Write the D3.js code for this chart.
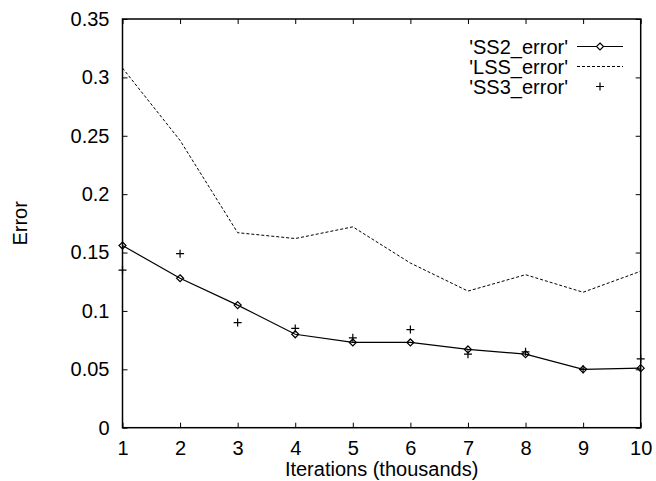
<!DOCTYPE html>
<html>
<head>
<meta charset="utf-8">
<script src="https://cdn.jsdelivr.net/npm/d3@7"></script>
<style>
  body { margin: 0; background: #fff; }
  text { font-family: "Liberation Sans", Arial, sans-serif; fill: #000; }
</style>
</head>
<body>
<div id="chart"></div>
<script>
var iterations = [1, 2, 3, 4, 5, 6, 7, 8, 9, 10];
var ss2Error = [0.156, 0.128, 0.105, 0.080, 0.073, 0.073, 0.067, 0.063, 0.050, 0.051];
var lssError = [0.308, 0.246, 0.167, 0.162, 0.172, 0.141, 0.117, 0.131, 0.116, 0.134];
var ss3Error = [0.135, 0.149, 0.090, 0.085, 0.077, 0.084, 0.063, 0.065, 0.050, 0.059];
var yTicks = [0, 0.05, 0.1, 0.15, 0.2, 0.25, 0.3, 0.35];
var legendNames = ["'SS2_error'", "'LSS_error'", "'SS3_error'"];

var width = 656, height = 481;
var margin = { left: 122.5, right: 15.3, top: 19, bottom: 53.3 };
var fontSize = '20px';

var svg = d3.select('#chart')
  .append('svg')
  .attr('width', width)
  .attr('height', height);

var x = d3.scaleLinear().domain([1, 10]).range([margin.left, width - margin.right]);
var y = d3.scaleLinear().domain([0, 0.35]).range([height - margin.bottom, margin.top]);

var tickLen = 5;

// axes: ticks pointing inward, mirrored on opposite sides
svg.append('g')
  .attr('transform', 'translate(0,' + y(0) + ')')
  .call(d3.axisBottom(x).tickValues(iterations).tickSize(-tickLen).tickPadding(13).tickFormat(d3.format('d')))
  .call(function(g) { g.select('.domain').remove(); })
  .selectAll('text').style('font-size', fontSize);

svg.append('g')
  .attr('transform', 'translate(0,' + y(0.35) + ')')
  .call(d3.axisTop(x).tickValues(iterations).tickSize(-tickLen).tickFormat(''))
  .call(function(g) { g.select('.domain').remove(); });

svg.append('g')
  .attr('transform', 'translate(' + x(1) + ',0)')
  .call(d3.axisLeft(y).tickValues(yTicks).tickSize(-tickLen).tickPadding(13).tickFormat(function(d) { return d3.format('')(+d.toFixed(2)); }))
  .call(function(g) { g.select('.domain').remove(); })
  .selectAll('text').style('font-size', fontSize);

svg.append('g')
  .attr('transform', 'translate(' + x(10) + ',0)')
  .call(d3.axisRight(y).tickValues(yTicks).tickSize(-tickLen).tickFormat(''))
  .call(function(g) { g.select('.domain').remove(); });

svg.selectAll('.tick line').attr('stroke', '#000').attr('stroke-width', 1);

// border
svg.append('rect')
  .attr('x', x(1))
  .attr('y', y(0.35))
  .attr('width', x(10) - x(1))
  .attr('height', y(0) - y(0.35))
  .attr('fill', 'none')
  .attr('stroke', '#000')
  .attr('stroke-width', 1.5);

// axis labels
svg.append('text')
  .attr('x', (x(1) + x(10)) / 2)
  .attr('y', 476)
  .attr('text-anchor', 'middle')
  .style('font-size', fontSize)
  .text('Iterations (thousands)');

svg.append('text')
  .attr('transform', 'translate(27,' + (y(0) + y(0.35)) / 2 + ') rotate(-90)')
  .attr('text-anchor', 'middle')
  .style('font-size', fontSize)
  .text('Error');

var line = d3.line()
  .x(function(d) { return x(d[0]); })
  .y(function(d) { return y(d[1]); });

var lssData = d3.zip(iterations, lssError);
var ss2Data = d3.zip(iterations, ss2Error);
var ss3Data = d3.zip(iterations, ss3Error);

svg.append('path')
  .attr('d', line(lssData))
  .attr('fill', 'none')
  .attr('stroke', '#000')
  .attr('stroke-width', 1)
  .attr('stroke-dasharray', '3,2');

svg.append('path')
  .attr('d', line(ss2Data))
  .attr('fill', 'none')
  .attr('stroke', '#000')
  .attr('stroke-width', 1.2);

var diamond = 'M0,-3.5L3.5,0L0,3.5L-3.5,0Z';
var plus = 'M-4,0H4M0,-4V4';

svg.append('g')
  .selectAll('path')
  .data(ss2Data)
  .enter()
  .append('path')
  .attr('transform', function(d) { return 'translate(' + x(d[0]) + ',' + y(d[1]) + ')'; })
  .attr('d', diamond)
  .attr('fill', 'none')
  .attr('stroke', '#000')
  .attr('stroke-width', 1.2);

svg.append('g')
  .selectAll('path')
  .data(ss3Data)
  .enter()
  .append('path')
  .attr('transform', function(d) { return 'translate(' + x(d[0]) + ',' + y(d[1]) + ')'; })
  .attr('d', plus)
  .attr('stroke', '#000')
  .attr('stroke-width', 1.2);

// legend
var legendX = 568, legendY = 46.5, rowGap = 20;
var sampleX0 = 577, sampleX1 = 623;

var legend = svg.append('g').attr('class', 'legend');
legend.selectAll('text')
  .data(legendNames)
  .enter()
  .append('text')
  .attr('x', legendX)
  .attr('y', function(d, i) { return legendY + rowGap * i; })
  .attr('dy', '.35em')
  .attr('text-anchor', 'end')
  .style('font-size', fontSize)
  .text(function(d) { return d; });

legend.append('line')
  .attr('x1', sampleX0).attr('x2', sampleX1)
  .attr('y1', legendY).attr('y2', legendY)
  .attr('stroke', '#000').attr('stroke-width', 1.2);
legend.append('path')
  .attr('transform', 'translate(' + (sampleX0 + sampleX1) / 2 + ',' + legendY + ')')
  .attr('d', diamond)
  .attr('fill', '#fff')
  .attr('stroke', '#000')
  .attr('stroke-width', 1.2);
legend.append('line')
  .attr('x1', sampleX0).attr('x2', sampleX1)
  .attr('y1', legendY + rowGap).attr('y2', legendY + rowGap)
  .attr('stroke', '#000').attr('stroke-width', 1)
  .attr('stroke-dasharray', '3,2');
legend.append('path')
  .attr('transform', 'translate(' + (sampleX0 + sampleX1) / 2 + ',' + (legendY + rowGap * 2) + ')')
  .attr('d', plus)
  .attr('stroke', '#000')
  .attr('stroke-width', 1.2);
</script>
</body>
</html>
